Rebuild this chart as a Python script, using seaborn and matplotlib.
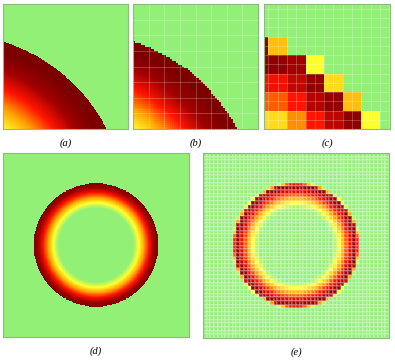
import numpy as np
import matplotlib
matplotlib.use("Agg")
import matplotlib.pyplot as plt
from matplotlib.colors import LinearSegmentedColormap
import seaborn as sns

# colour ramp (level 0 = background green, 1 = darkest red)
ramp_pos = [0.0, 0.22, 0.42, 0.62, 0.82, 1.0]
ramp_col = ["#93f077", "#ffff30", "#ffa400", "#ff1400", "#a00000", "#7c0000"]

# (a)/(b): quarter of the disc, centre and radius in panel units
quarter_centre = (-0.41, -0.63)
quarter_radius = 1.39
quarter_offset, quarter_gain = 0.425, 1.95

# (d)/(e): ring, outer radius as fraction of panel, inner fade point (r/R)
ring_radius = 0.335
ring_inner = 0.6

# (c): coarse cells, rows top to bottom (first/last columns are cut off)
coarse = [
    [0, 0, 0, 0, 0, 0, 0, 0],
    [0, 0, 0, 0, 0, 0, 0, 0],
    [0.92, 0.36, 0, 0, 0, 0, 0, 0],
    [0.90, 0.90, 0.82, 0.22, 0, 0, 0, 0],
    [0.65, 0.65, 0.75, 0.88, 0.30, 0, 0, 0],
    [0.52, 0.52, 0.62, 0.78, 0.88, 0.36, 0, 0],
    [0.30, 0.30, 0.45, 0.62, 0.76, 0.90, 0.22, 0],
]

labels = ["(a)", "(b)", "(c)", "(d)", "(e)"]

cmap = LinearSegmentedColormap.from_list("ring", list(zip(ramp_pos, ramp_col)))
grid_col = (1, 1, 1, 0.32)
cell_col = (1, 1, 1, 0.2)
edge_col = "#8cbc7c"


def quarter_field(n):
    c = (np.arange(n) + 0.5) / n
    u, v = np.meshgrid(c, c[::-1])
    t = np.hypot(u - quarter_centre[0], v - quarter_centre[1]) / quarter_radius
    lvl = np.clip((t - quarter_offset) * quarter_gain, 0, 1)
    lvl[t > 1] = 0
    return lvl


def ring_field(n, sub=1):
    m = n * sub
    c = (np.arange(m) + 0.5) / m - 0.5
    x, y = np.meshgrid(c, c)
    t = np.hypot(x, y) / ring_radius
    lvl = np.clip((t - ring_inner) / (1 - ring_inner), 0, 1)
    lvl[t > 1] = 0
    return lvl.reshape(n, sub, n, sub).mean(axis=(1, 3))


def draw(ax, data, **kw):
    sns.heatmap(data, ax=ax, cmap=cmap, vmin=0, vmax=1, cbar=False,
                xticklabels=False, yticklabels=False, rasterized=True, **kw)
    for s in ax.spines.values():
        s.set_visible(True)
        s.set_color(edge_col)
        s.set_linewidth(0.8)


fig = plt.figure(figsize=(3.95, 3.6), dpi=100)
W, H = 395, 360
boxes = [(3, 4, 125, 125), (133, 4, 125, 125), (264, 4, 126, 125),
         (3, 153, 186, 184), (203, 153, 186, 185)]
axes = [fig.add_axes([x / W, 1 - (y + h) / H, w / W, h / H]) for x, y, w, h in boxes]

# (a) smooth quarter
draw(axes[0], quarter_field(260))

# (b) pixelated quarter with a coarse guide grid
draw(axes[1], quarter_field(64))
for k in range(8, 64, 8):
    axes[1].axvline(k, color=grid_col, lw=0.5)
    axes[1].axhline(k, color=grid_col, lw=0.5)

# (c) coarse cells
draw(axes[2], np.array(coarse))
axes[2].set_xlim(0.77, 7.54)
axes[2].set_ylim(7, 0.23)
for k in np.arange(1, 8, 0.5):
    axes[2].axvline(k, color=grid_col, lw=0.5)
for k in np.arange(0.5, 7, 0.5):
    axes[2].axhline(k, color=grid_col, lw=0.5)

# (d) smooth ring
draw(axes[3], ring_field(320))

# (e) pixelated ring, every cell outlined
draw(axes[4], ring_field(50, sub=6), linewidths=0.2, linecolor=cell_col)

for (x, y, w, h), lab in zip(boxes, labels):
    fig.text((x + w / 2) / W, 1 - (y + h + 14) / H, lab, ha="center", va="center",
             family="Liberation Serif", style="italic", fontsize=7.5)

fig.savefig("out.png", dpi=100)
